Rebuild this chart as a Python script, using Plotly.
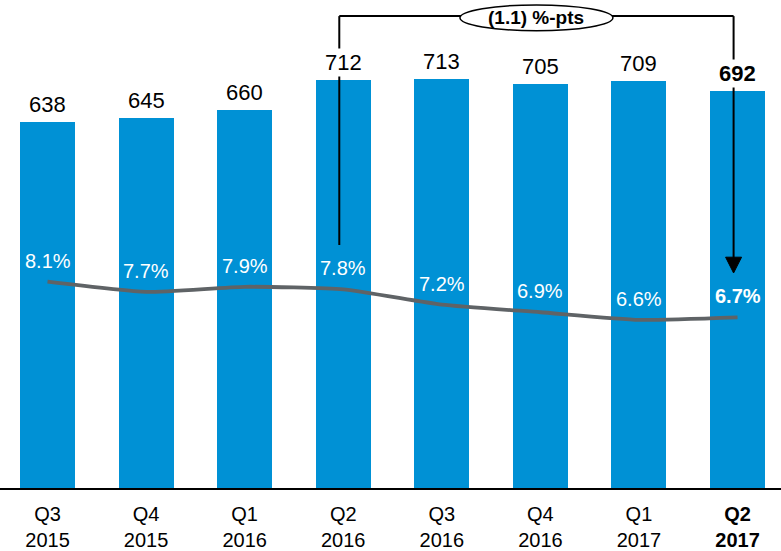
import plotly.graph_objects as go

quarters = ["Q3", "Q4", "Q1", "Q2", "Q3", "Q4", "Q1", "Q2"]
years = ["2015", "2015", "2016", "2016", "2016", "2016", "2017", "2017"]
volumes = [638, 645, 660, 712, 713, 705, 709, 692]
margins_pct = [8.1, 7.7, 7.9, 7.8, 7.2, 6.9, 6.6, 6.7]
bracket_label = "(1.1) %-pts"

BLUE = "rgb(0,145,213)"
GREY = "rgb(95,99,102)"
FONT = "Liberation Sans, Arial, sans-serif"

n = len(quarters)
last = n - 1
cats = [f"{q} {y}" for q, y in zip(quarters, years)]
ticktext = [f"{q}<br>{y}" for q, y in zip(quarters, years)]
ticktext[last] = f"<b>{quarters[last]}<br>{years[last]}</b>"

fig = go.Figure()
fig.add_trace(go.Bar(x=cats, y=volumes, marker=dict(color=BLUE, line=dict(width=0)),
                     width=0.558, hoverinfo="skip"))
fig.add_trace(go.Scatter(x=cats, y=margins_pct, yaxis="y2", mode="lines",
                         line=dict(color=GREY, width=3.8, shape="spline", smoothing=0.5),
                         hoverinfo="skip"))

annotations = []
for i, (c, v) in enumerate(zip(cats, volumes)):
    txt = f"<b>{v}</b>" if i == last else str(v)
    annotations.append(dict(x=c, y=v, xref="x", yref="y", text=txt, showarrow=False,
                            yanchor="bottom", yshift=3, bgcolor="white", borderpad=1,
                            font=dict(size=22, color="black", family=FONT)))
for i, (c, p) in enumerate(zip(cats, margins_pct)):
    txt = f"{p:.1f}%"
    if i == last:
        txt = f"<b>{txt}</b>"
    annotations.append(dict(x=c, y=p, xref="x", yref="y2", text=txt, showarrow=False,
                            yanchor="middle", yshift=21,
                            font=dict(size=20, color="white", family=FONT)))

# bracket from Q2 2016 to Q2 2017
xl = 3 - 0.04
xr = last - 0.04
ytop = 0.967
xc = (xl + xr) / 2
shapes = [
    dict(type="line", xref="x", yref="paper", x0=xl, x1=xl, y0=ytop, y1=0.498,
         line=dict(color="black", width=2)),
    dict(type="line", xref="x", yref="paper", x0=xr, x1=xr, y0=ytop, y1=0.471,
         line=dict(color="black", width=2)),
    dict(type="line", xref="x", yref="paper", x0=xl, x1=xr, y0=ytop, y1=ytop,
         line=dict(color="black", width=2)),
    dict(type="path", xref="x", yref="paper",
         path=f"M {xr-0.081},0.473 L {xr+0.081},0.473 L {xr},0.4406 Z",
         fillcolor="black", line=dict(color="black", width=1)),
    dict(type="circle", xref="x", yref="paper", x0=xc - 0.776, x1=xc + 0.776,
         y0=0.937, y1=0.990, fillcolor="white", line=dict(color="black", width=1.5)),
]
annotations.append(dict(x=xc, y=0.9645, xref="x", yref="paper", text=f"<b>{bracket_label}</b>",
                        showarrow=False, xanchor="center", yanchor="middle",
                        font=dict(size=19, color="black", family=FONT)))

fig.update_layout(
    width=781, height=551,
    margin=dict(l=0, r=0, t=0, b=63, autoexpand=False),
    plot_bgcolor="white", paper_bgcolor="white",
    showlegend=False,
    bargap=0,
    font=dict(family=FONT, color="black"),
    xaxis=dict(type="category", range=[-0.482, 7.441], showline=True, linecolor="black",
               linewidth=2, showgrid=False, zeroline=False, ticks="",
               tickvals=cats, ticktext=ticktext, tickfont=dict(size=20, color="black"),
               ticklabelstandoff=7, automargin=False),
    yaxis=dict(range=[0, 851], visible=False, showgrid=False, zeroline=False),
    yaxis2=dict(range=[0, 19.16], visible=False, overlaying="y", side="right",
                showgrid=False, zeroline=False),
    annotations=annotations,
    shapes=shapes,
)

fig.write_html("out.html")
